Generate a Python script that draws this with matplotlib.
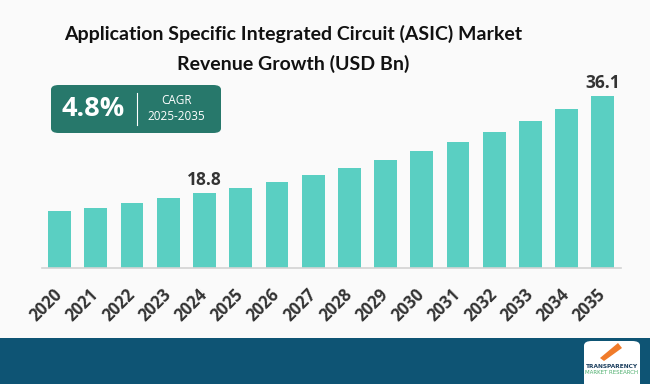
import matplotlib
matplotlib.use("Agg")
import matplotlib.pyplot as plt
from matplotlib.patches import FancyBboxPatch, Rectangle, Polygon

years = ["2020", "2021", "2022", "2023", "2024", "2025", "2026", "2027",
         "2028", "2029", "2030", "2031", "2032", "2033", "2034", "2035"]
revenue = [15.6, 16.2, 17.1, 17.9, 18.8, 19.7, 20.8, 22.0,
           23.3, 24.7, 26.3, 27.9, 29.7, 31.7, 33.8, 36.1]
labeled = {"2024": "18.8", "2035": "36.1"}
title = "Application Specific Integrated Circuit (ASIC) Market\nRevenue Growth (USD Bn)"
cagr_value = "4.8%"
cagr_label = "CAGR"
cagr_period = "2025-2035"

W, H = 650, 384
fig = plt.figure(figsize=(W / 100, H / 100), dpi=100)
fig.patch.set_facecolor("#fafafa")

def fx(px):
    return px / W

def fy(py):
    return 1 - py / H

# bottom band
fig.patches.append(Rectangle((0, 0), 1, fy(338), transform=fig.transFigure,
                             facecolor="#0e5474", edgecolor="none", zorder=0))
# logo box
fig.patches.append(FancyBboxPatch((fx(584), fy(384) - 0.02), fx(56), fy(341) - fy(384) + 0.02,
                                  boxstyle="round,pad=0,rounding_size=0.012",
                                  transform=fig.transFigure, facecolor="white",
                                  edgecolor="none", zorder=1))
fig.patches.append(Polygon([(fx(600), fy(358)), (fx(618), fy(343)), (fx(622), fy(348)), (fx(604), fy(361))],
                           closed=True, transform=fig.transFigure, facecolor="#f07b2a",
                           edgecolor="none", zorder=2))
fig.text(fx(612), fy(366), "TRANSPARENCY", fontsize=4.2, fontweight="bold", color="#1c3f5e",
         ha="center", va="center", zorder=3)
fig.text(fx(612), fy(372), "MARKET RESEARCH", fontsize=4.0, color="#4cae6c",
         ha="center", va="center", zorder=3)

# title
fig.text(fx(293), fy(49), title, ha="center", va="center", fontsize=14,
         fontweight="bold", color="#111111", family="Lato", linespacing=1.85)

# axes
ax_left, ax_right = 41.5, 621
ax_top, ax_bot = 80, 268.3
ax = fig.add_axes([fx(ax_left), fy(ax_bot), fx(ax_right - ax_left), (ax_bot - ax_top) / H])
ax.set_facecolor("none")
x = list(range(len(years)))
ax.bar(x, revenue, width=0.63, color="#5acfc2", zorder=2)
ax.set_xlim(-0.5, 15.5)
ax.set_ylim(5.42, 38.95)
for s in ["top", "right", "left"]:
    ax.spines[s].set_visible(False)
ax.spines["bottom"].set_color("#d3d3d3")
ax.spines["bottom"].set_linewidth(1.2)
ax.set_yticks([])
ax.set_xticks(x)
ax.set_xticklabels(years, rotation=45, ha="right", va="center", rotation_mode="anchor",
                   fontsize=12, fontweight="bold", color="#333333", family="Open Sans")
ax.tick_params(axis="x", length=0, pad=17)
for xi, yr, v in zip(x, years, revenue):
    if yr in labeled:
        ax.annotate(labeled[yr], (xi, v), xytext=(0, 3), textcoords="offset points",
                    ha="center", va="bottom", fontsize=12.5, fontweight="bold",
                    color="#333333", family="Open Sans")

# CAGR box
fig.patches.append(FancyBboxPatch((fx(51), fy(133)), fx(170), fy(85) - fy(133),
                                  boxstyle="round,pad=0,rounding_size=0.012",
                                  transform=fig.transFigure, facecolor="#27786b",
                                  edgecolor="none", zorder=1))
fig.text(fx(93), fy(109), cagr_value, ha="center", va="center", fontsize=19.5,
         fontweight="bold", color="white", family="Open Sans", zorder=3)
fig.lines.append(plt.Line2D([fx(137), fx(137)], [fy(93), fy(125)], transform=fig.transFigure,
                            color="white", linewidth=0.8, zorder=3))
fig.text(fx(176), fy(101), cagr_label, ha="center", va="center", fontsize=8.5,
         color="white", family="Open Sans", zorder=3)
fig.text(fx(176), fy(116), cagr_period, ha="center", va="center", fontsize=8.5,
         color="white", family="Open Sans", zorder=3)

fig.savefig("out.png", dpi=100, facecolor=fig.get_facecolor())
